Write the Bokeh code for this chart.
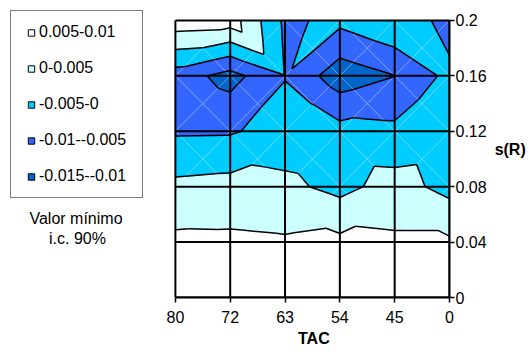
import numpy as np
from bokeh.plotting import figure
from bokeh.models import FixedTicker, Legend, LegendItem, Label, Range1d, Title
from bokeh.embed import file_html
from bokeh.resources import INLINE

# ---------------- data ----------------
tac_labels = ["80", "72", "63", "54", "45", "0"]
sr_values = [0.0, 0.04, 0.08, 0.12, 0.16, 0.2]
sr_labels = ["0", "0.04", "0.08", "0.12", "0.16", "0.2"]

# minimum of the 90% c.i. at each grid node (one list per s(R) row, columns follow TAC)
z_sr000 = [0.0080, 0.0080, 0.0080, 0.0080, 0.0080, 0.0080]
z_sr004 = [0.0061, 0.0060, 0.0056, 0.0062, 0.0058, 0.0058]
z_sr008 = [0.0012, 0.0018, 0.0012, -0.0015, 0.0020, -0.0016]
z_sr012 = [-0.0056, -0.0055, -0.0030, -0.0032, -0.0038, -0.0030]
z_sr016 = [-0.0074, -0.0119, -0.0052, -0.0130, -0.0101, -0.0036]
z_sr020 = [0.0081, 0.0076, -0.0060, -0.0037, -0.0002, -0.0074]

# values at the cell centres (each cell is split into four triangles)
c_000_004 = [0.0070, 0.0069, 0.0070, 0.0070, 0.0069]
c_004_008 = [0.0038, 0.0037, 0.0038, 0.0041, 0.0039]
c_008_012 = [-0.0020, -0.0005, -0.0013, -0.0007, -0.0005]
c_012_016 = [-0.0076, -0.0053, -0.00505, -0.0069, -0.0042]
c_016_020 = [-0.0001, 0.0015, -0.0044, -0.00675, -0.0019]

band_labels = ["0.005-0.01", "0-0.005", "-0.005-0", "-0.01--0.005", "-0.015--0.01"]
band_lo = [0.005, 0.0, -0.005, -0.01, -0.015]
band_hi = [0.01, 0.005, 0.0, -0.005, -0.01]
band_colors = ["#FFFFFF", "#CCFFFF", "#00CCFF", "#3366FF", "#0066CC"]
contour_levels = [-0.01, -0.005, 0.0, 0.005]

FONT = "Liberation Sans"
FS = "16px"

# ---------------- geometry from data ----------------
Z = np.array([z_sr000, z_sr004, z_sr008, z_sr012, z_sr016, z_sr020])
C = np.array([c_000_004, c_004_008, c_008_012, c_012_016, c_016_020])
xpos = np.arange(len(tac_labels), dtype=float)
ypos = np.array(sr_values)
xmin, xmax = xpos[0], xpos[-1]
ymin, ymax = ypos[0], ypos[-1]

triangles = []
diag = {"x0": [], "y0": [], "x1": [], "y1": []}
for j in range(len(ypos) - 1):
    for i in range(len(xpos) - 1):
        xa, xb = xpos[i], xpos[i + 1]
        ya, yb = ypos[j], ypos[j + 1]
        cen = ((xa + xb) / 2, (ya + yb) / 2, C[j][i])
        corners = [(xa, ya, Z[j][i]), (xb, ya, Z[j][i + 1]),
                   (xb, yb, Z[j + 1][i + 1]), (xa, yb, Z[j + 1][i])]
        for k in range(4):
            triangles.append([corners[k], corners[(k + 1) % 4], cen])
        diag["x0"] += [xa, xa]
        diag["y0"] += [ya, yb]
        diag["x1"] += [xb, xb]
        diag["y1"] += [yb, ya]


def clip(poly, lev, keep_above):
    out = []
    n = len(poly)
    for k in range(n):
        a = poly[k]
        b = poly[(k + 1) % n]
        ina = a[2] >= lev if keep_above else a[2] <= lev
        inb = b[2] >= lev if keep_above else b[2] <= lev
        if ina:
            out.append(a)
        if ina != inb:
            t = (lev - a[2]) / (b[2] - a[2])
            out.append((a[0] + t * (b[0] - a[0]), a[1] + t * (b[1] - a[1]), lev))
    return out


# ---------------- figure ----------------
# the frame also holds the legend area on the left; axes are bounded to the data grid
p = figure(width=528, height=353, output_backend="svg", toolbar_location=None,
           title=None,
           x_range=Range1d(-3.19, 5), y_range=Range1d(0, 0.2144),
           y_axis_location="right",
           min_border_left=0, min_border_right=75,
           min_border_top=0, min_border_bottom=56)
p.background_fill_color = "white"
p.border_fill_color = "white"
p.outline_line_color = None
p.xgrid.visible = False
p.ygrid.visible = False

for lo, hi, col in zip(band_lo, band_hi, band_colors):
    pxs, pys = [], []
    for tri in triangles:
        poly = clip(clip(tri, lo, True), hi, False)
        if len(poly) >= 3:
            pxs.append([q[0] for q in poly])
            pys.append([q[1] for q in poly])
    if pxs:
        p.patches(pxs, pys, fill_color=col, line_color=col, line_width=0.7)

# faint mesh diagonals
p.segment(x0="x0", y0="y0", x1="x1", y1="y1", source=diag,
          line_color="white", line_alpha=0.35, line_width=1)

# contour lines
seg = {"x0": [], "y0": [], "x1": [], "y1": []}
for lev in contour_levels:
    for tri in triangles:
        pts = []
        for a, b in ((tri[0], tri[1]), (tri[1], tri[2]), (tri[2], tri[0])):
            if (a[2] > lev) != (b[2] > lev):
                t = (lev - a[2]) / (b[2] - a[2])
                pts.append((a[0] + t * (b[0] - a[0]), a[1] + t * (b[1] - a[1])))
        if len(pts) == 2:
            seg["x0"].append(pts[0][0]); seg["y0"].append(pts[0][1])
            seg["x1"].append(pts[1][0]); seg["y1"].append(pts[1][1])
p.segment(x0="x0", y0="y0", x1="x1", y1="y1", source=seg,
          line_color="black", line_width=1.5)

# major grid lines over the data grid only
grid = {"x0": [], "y0": [], "x1": [], "y1": []}
for xv in xpos:
    grid["x0"].append(xv); grid["y0"].append(ymin)
    grid["x1"].append(xv); grid["y1"].append(ymax)
for yv in ypos:
    grid["x0"].append(xmin); grid["y0"].append(yv)
    grid["x1"].append(xmax); grid["y1"].append(yv)
p.segment(x0="x0", y0="y0", x1="x1", y1="y1", source=grid,
          line_color="black", line_width=2)

# axes
p.xaxis.ticker = FixedTicker(ticks=list(xpos))
p.xaxis.major_label_overrides = {float(v): lab for v, lab in zip(xpos, tac_labels)}
p.xaxis.bounds = (float(xmin), float(xmax))
p.yaxis.ticker = FixedTicker(ticks=sr_values)
p.yaxis.major_label_overrides = {v: lab for v, lab in zip(sr_values, sr_labels)}
p.yaxis.bounds = (float(ymin), float(ymax))
for ax in (p.xaxis[0], p.yaxis[0]):
    ax.axis_line_color = "black"
    ax.axis_line_width = 2
    ax.major_tick_line_color = "black"
    ax.major_tick_line_width = 1.5
    ax.major_tick_in = 0
    ax.major_tick_out = 5
    ax.minor_tick_line_color = None
    ax.major_label_text_font = FONT
    ax.major_label_text_font_size = FS
    ax.major_label_text_color = "black"
p.xaxis.major_label_standoff = 8
p.yaxis.major_label_standoff = 1
p.yaxis.axis_label = "s(R)"
p.yaxis.axis_label_orientation = "horizontal"
p.yaxis.axis_label_standoff = 5
p.yaxis.axis_label_text_font = FONT
p.yaxis.axis_label_text_font_size = FS
p.yaxis.axis_label_text_font_style = "bold"
p.yaxis.axis_label_text_color = "black"
p.yaxis.axis_label_text_baseline = "top"

# x-axis title, centred under the data grid (which starts 176.5 px into the frame)
p.add_layout(Title(text="TAC", align="left", offset=297.5, standoff=4,
                   text_font=FONT, text_font_size=FS, text_font_style="bold",
                   text_color="black"), "below")

# legend
items = []
for lab, col in zip(band_labels, band_colors):
    r = p.scatter(x=[np.nan], y=[np.nan], marker="square", size=7,
                  fill_color=col, line_color="black", line_width=1)
    items.append(LegendItem(label=lab, renderers=[r]))
legend = Legend(items=items, location="top_left", orientation="vertical",
                glyph_width=16, glyph_height=17, label_width=91, label_height=17,
                label_standoff=0, spacing=18, padding=12, margin=10,
                border_line_color="black", border_line_width=1,
                background_fill_color="white", background_fill_alpha=1,
                label_text_font=FONT, label_text_font_size=FS,
                label_text_color="black")
p.add_layout(legend, "center")

# note under the legend (screen px from the frame's bottom-left corner)
for txt, x, y in [("Valor mínimo", 75.5, 79), ("i.c. 90%", 77, 59)]:
    p.add_layout(Label(x=x, y=y, x_units="screen", y_units="screen", text=txt,
                       text_align="center", text_baseline="middle",
                       text_font=FONT, text_font_size=FS,
                       text_color="black"))

open("out.html", "w").write(file_html(p, INLINE))
